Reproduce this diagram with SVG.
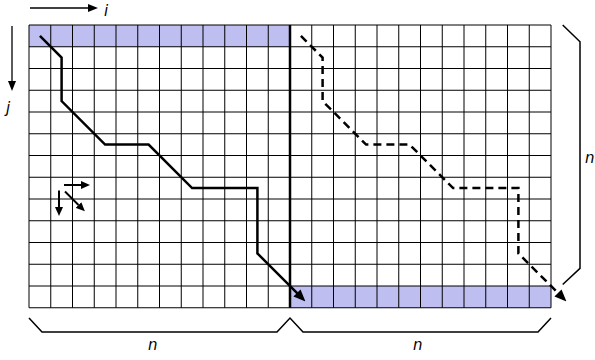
<svg xmlns="http://www.w3.org/2000/svg" width="595" height="360" viewBox="0 0 595 360">
<defs>
<style>
.hl{fill:#bebef0;stroke:none}
.grid{fill:none;stroke:#000;stroke-width:1}
.path{fill:none;stroke:#000;stroke-width:2.5;stroke-linejoin:miter}
.dash{stroke-dasharray:8,5}
.thin{fill:none;stroke:#000;stroke-width:1.3}
.small{fill:none;stroke:#000;stroke-width:2}
.brace{fill:none;stroke:#000;stroke-width:1.5}
.lbl{font-family:"DejaVu Sans",sans-serif;font-style:italic;font-size:15px;fill:#000}
</style>
<marker id="big" markerUnits="userSpaceOnUse" markerWidth="12" markerHeight="10" refX="2" refY="5" orient="auto">
<path d="M0,0 L12,5 L0,10 z" fill="#000"/>
</marker>
<marker id="ax" markerUnits="userSpaceOnUse" markerWidth="10" markerHeight="8" refX="0" refY="4" orient="auto">
<path d="M0,0 L10,4 L0,8 z" fill="#000"/>
</marker>
<marker id="sm" markerUnits="userSpaceOnUse" markerWidth="9" markerHeight="8" refX="0" refY="4" orient="auto">
<path d="M0,0 L9,4 L0,8 z" fill="#000"/>
</marker>
</defs>
<rect width="595" height="360" fill="#fff"/>
<g id="highlights">
<rect class="hl" x="29" y="25" width="261" height="21.75"/>
<rect class="hl" x="290" y="286" width="261" height="21.75"/>
</g>
<g id="grid">
<path class="grid" d="M29,25V307.75M50.75,25V307.75M72.5,25V307.75M94.25,25V307.75M116,25V307.75M137.75,25V307.75M159.5,25V307.75M181.25,25V307.75M203,25V307.75M224.75,25V307.75M246.5,25V307.75M268.25,25V307.75M311.75,25V307.75M333.5,25V307.75M355.25,25V307.75M377,25V307.75M398.75,25V307.75M420.5,25V307.75M442.25,25V307.75M464,25V307.75M485.75,25V307.75M507.5,25V307.75M529.25,25V307.75M551,25V307.75
M29,25H551M29,46.75H551M29,68.5H551M29,90.25H551M29,112H551M29,133.75H551M29,155.5H551M29,177.25H551M29,199H551M29,220.75H551M29,242.5H551M29,264.25H551M29,286H551M29,307.75H551"/>
<line x1="290" y1="25" x2="290" y2="307.75" stroke="#000" stroke-width="2.5"/>
</g>
<g id="connectors">
<path class="path" marker-end="url(#big)" d="M39.9,35.9 L61.6,57.6 L61.6,101.1 L105.1,144.6 L148.6,144.6 L192.1,188.1 L257.4,188.1 L257.4,253.4 L298.4,294.4"/>
<path class="path dash" marker-end="url(#big)" d="M300.9,35.9 L322.6,57.6 L322.6,101.1 L366.1,144.6 L409.6,144.6 L453.1,188.1 L518.4,188.1 L518.4,253.4 L559.4,294.4"/>
<line class="thin" x1="30" y1="8" x2="88" y2="8" marker-end="url(#ax)"/>
<line class="thin" x1="12" y1="26" x2="12" y2="81" marker-end="url(#ax)"/>
<line class="small" x1="64" y1="185" x2="81" y2="185" marker-end="url(#sm)"/>
<line class="small" x1="59" y1="190.5" x2="59" y2="207" marker-end="url(#sm)"/>
<line class="small" x1="65" y1="191.5" x2="78.5" y2="205" marker-end="url(#sm)"/>
</g>
<g id="braces">
<path class="brace" d="M562.7,25 L580,41.7 L580,268.3 L562.7,284.5"/>
<path class="brace" d="M29,318 L42,332 L277,332 L290,318 L303,332 L538,332 L551,318"/>
</g>
<g id="labels">
<text class="lbl" x="104" y="16">i</text>
<text class="lbl" x="6" y="113">j</text>
<text class="lbl" x="585" y="163">n</text>
<text class="lbl" x="148" y="350">n</text>
<text class="lbl" x="413" y="350">n</text>
</g>
</svg>
